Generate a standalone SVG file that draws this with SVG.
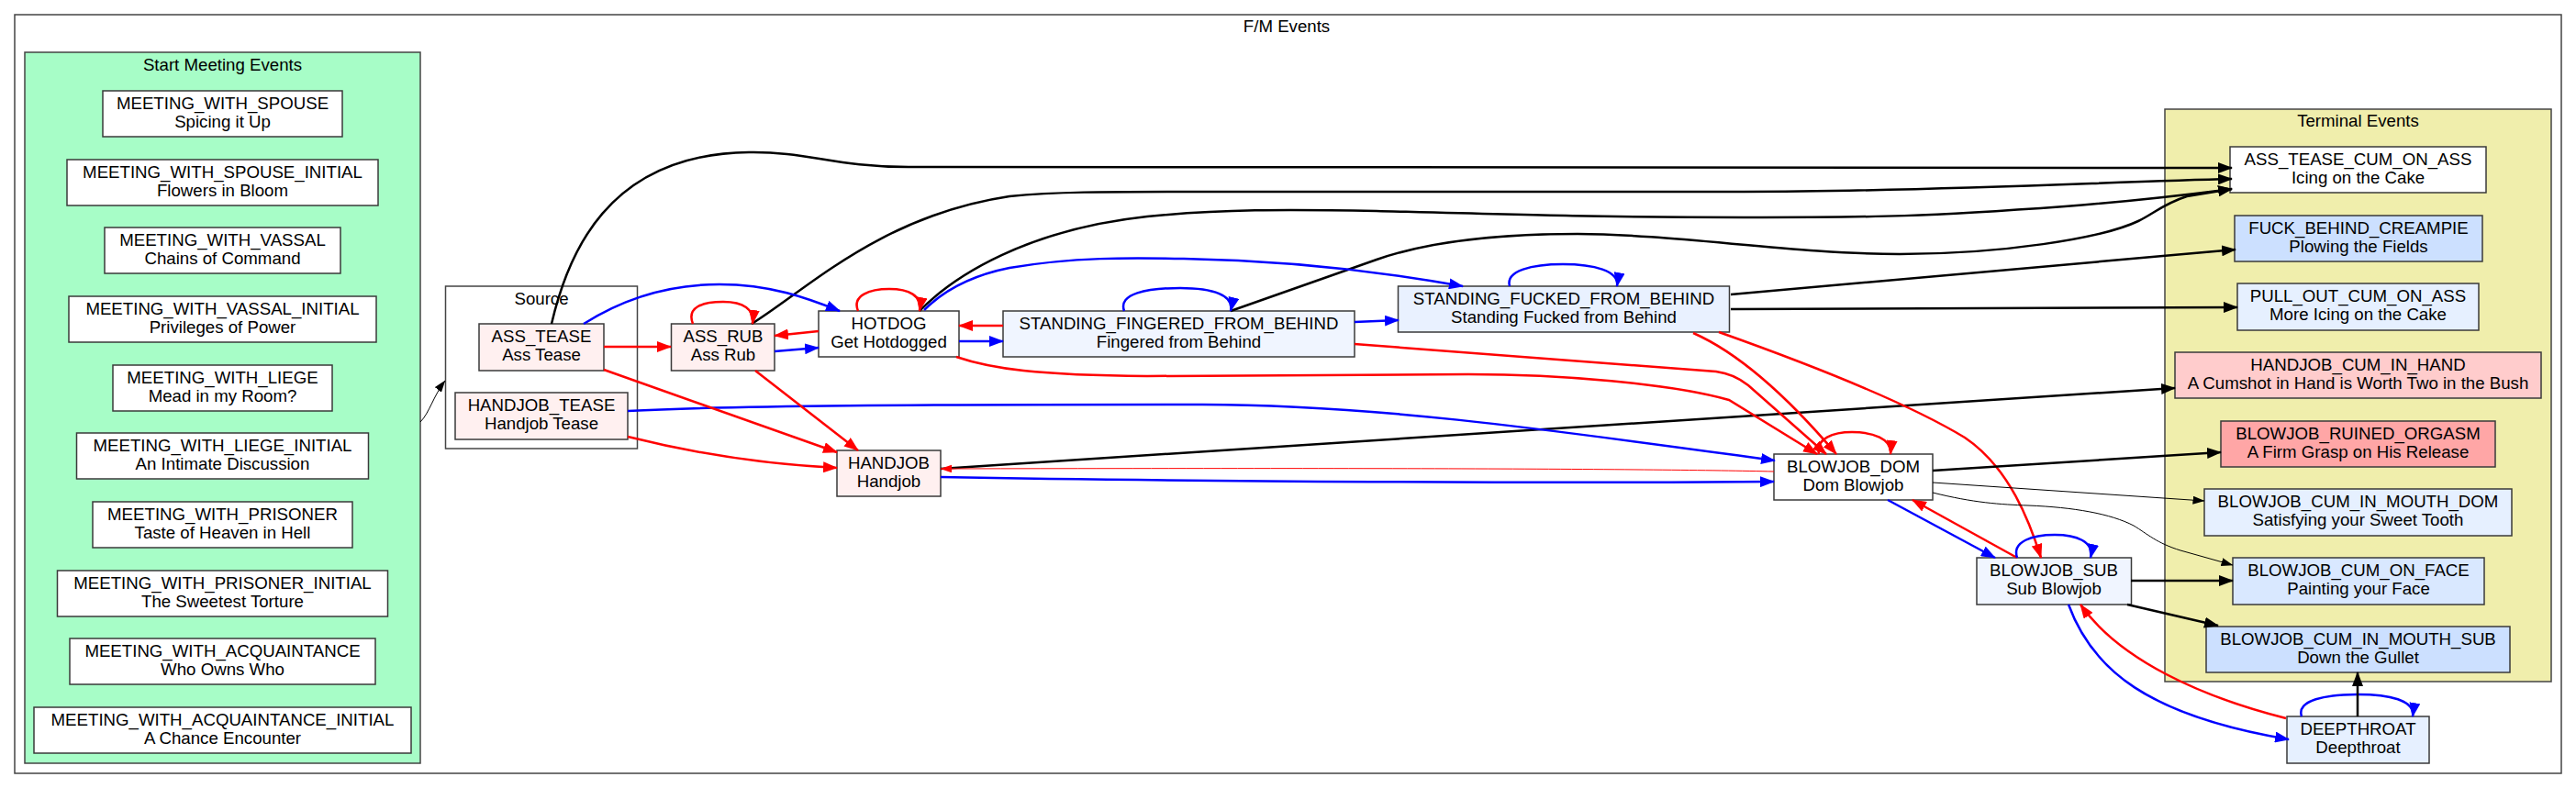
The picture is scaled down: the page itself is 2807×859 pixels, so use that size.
<svg xmlns="http://www.w3.org/2000/svg" width="2807" height="859" viewBox="0 0 2807 859">
<style>
text{font-family:"Liberation Sans",Arial,sans-serif;font-size:18.67px;fill:#000;text-anchor:middle}
.cl{stroke:#444;stroke-width:1.5}
.nd{stroke:#3a3a3a;stroke-width:1.5}
.e{fill:none;stroke-width:2.5}
.r{stroke:#ff0000}
.b{stroke:#0000ff}
.k{stroke:#000}
.t{stroke-width:1}
</style>
<defs>
<marker id="mr" viewBox="0 0 16 12" refX="15" refY="6" markerWidth="16" markerHeight="12" markerUnits="userSpaceOnUse" orient="auto"><path d="M0,0 L16,6 L0,12 z" fill="#ff0000"/></marker>
<marker id="mb" viewBox="0 0 16 12" refX="15" refY="6" markerWidth="16" markerHeight="12" markerUnits="userSpaceOnUse" orient="auto"><path d="M0,0 L16,6 L0,12 z" fill="#0000ff"/></marker>
<marker id="mk" viewBox="0 0 16 12" refX="15" refY="6" markerWidth="16" markerHeight="12" markerUnits="userSpaceOnUse" orient="auto"><path d="M0,0 L16,6 L0,12 z" fill="#000"/></marker>
<marker id="mkt" viewBox="0 0 13 9" refX="12.5" refY="4.5" markerWidth="13" markerHeight="9" markerUnits="userSpaceOnUse" orient="auto"><path d="M0,0 L13,4.5 L0,9 z" fill="#000"/></marker>
<marker id="mrt" viewBox="0 0 13 9" refX="12.5" refY="4.5" markerWidth="13" markerHeight="9" markerUnits="userSpaceOnUse" orient="auto"><path d="M0,0 L13,4.5 L0,9 z" fill="#ff0000"/></marker>
</defs>
<rect width="2807" height="859" fill="#fff"/>
<g id="cluster_outer">
<rect class="cl" x="16" y="16" width="2775" height="827" fill="#fff"/>
<text x="1402" y="35">F/M Events</text>
</g>
<g id="cluster_start">
<rect class="cl" x="27" y="57" width="431" height="775" fill="#a7fdc7"/>
<text x="242.5" y="77">Start Meeting Events</text>
</g>
<g id="cluster_source">
<rect class="cl" x="485.5" y="312" width="209" height="177" fill="#fff"/>
<text x="590" y="332">Source</text>
</g>
<g id="cluster_terminal">
<rect class="cl" x="2359" y="119" width="421" height="624" fill="#f0eeac"/>
<text x="2569.5" y="138">Terminal Events</text>
</g>
<g id="MEETING_WITH_SPOUSE"><rect class="nd" x="112" y="99" width="261" height="50" fill="#fff"/><text x="242.5" y="119">MEETING_WITH_SPOUSE</text><text x="242.5" y="138.5">Spicing it Up</text></g>
<g id="MEETING_WITH_SPOUSE_INITIAL"><rect class="nd" x="73" y="174" width="339" height="50" fill="#fff"/><text x="242.5" y="194">MEETING_WITH_SPOUSE_INITIAL</text><text x="242.5" y="213.5">Flowers in Bloom</text></g>
<g id="MEETING_WITH_VASSAL"><rect class="nd" x="114" y="248" width="257" height="50" fill="#fff"/><text x="242.5" y="268">MEETING_WITH_VASSAL</text><text x="242.5" y="287.5">Chains of Command</text></g>
<g id="MEETING_WITH_VASSAL_INITIAL"><rect class="nd" x="75" y="323" width="335" height="50" fill="#fff"/><text x="242.5" y="343">MEETING_WITH_VASSAL_INITIAL</text><text x="242.5" y="362.5">Privileges of Power</text></g>
<g id="MEETING_WITH_LIEGE"><rect class="nd" x="123" y="398" width="239" height="50" fill="#fff"/><text x="242.5" y="418">MEETING_WITH_LIEGE</text><text x="242.5" y="437.5">Mead in my Room?</text></g>
<g id="MEETING_WITH_LIEGE_INITIAL"><rect class="nd" x="83.5" y="472" width="318" height="50" fill="#fff"/><text x="242.5" y="492">MEETING_WITH_LIEGE_INITIAL</text><text x="242.5" y="511.5">An Intimate Discussion</text></g>
<g id="MEETING_WITH_PRISONER"><rect class="nd" x="101" y="547" width="283" height="50" fill="#fff"/><text x="242.5" y="567">MEETING_WITH_PRISONER</text><text x="242.5" y="586.5">Taste of Heaven in Hell</text></g>
<g id="MEETING_WITH_PRISONER_INITIAL"><rect class="nd" x="62.5" y="622" width="360" height="50" fill="#fff"/><text x="242.5" y="642">MEETING_WITH_PRISONER_INITIAL</text><text x="242.5" y="661.5">The Sweetest Torture</text></g>
<g id="MEETING_WITH_ACQUAINTANCE"><rect class="nd" x="76" y="696" width="333" height="50" fill="#fff"/><text x="242.5" y="716">MEETING_WITH_ACQUAINTANCE</text><text x="242.5" y="735.5">Who Owns Who</text></g>
<g id="MEETING_WITH_ACQUAINTANCE_INITIAL"><rect class="nd" x="37" y="771" width="411" height="50" fill="#fff"/><text x="242.5" y="791">MEETING_WITH_ACQUAINTANCE_INITIAL</text><text x="242.5" y="810.5">A Chance Encounter</text></g>
<g id="ASS_TEASE"><rect class="nd" x="522" y="353" width="136" height="51" fill="#fff0f0"/><text x="590" y="373">ASS_TEASE</text><text x="590" y="392.5">Ass Tease</text></g>
<g id="HANDJOB_TEASE"><rect class="nd" x="496" y="428" width="188" height="51" fill="#fff0f0"/><text x="590" y="448">HANDJOB_TEASE</text><text x="590" y="467.5">Handjob Tease</text></g>
<g id="ASS_RUB"><rect class="nd" x="731.5" y="353" width="112.5" height="51" fill="#fff0f0"/><text x="788" y="373">ASS_RUB</text><text x="788" y="392.5">Ass Rub</text></g>
<g id="HOTDOG"><rect class="nd" x="892" y="339" width="153" height="50" fill="#fff"/><text x="968.5" y="359">HOTDOG</text><text x="968.5" y="378.5">Get Hotdogged</text></g>
<g id="HANDJOB"><rect class="nd" x="912" y="491" width="113" height="50" fill="#fff0f0"/><text x="968.5" y="511">HANDJOB</text><text x="968.5" y="530.5">Handjob</text></g>
<g id="STANDING_FINGERED_FROM_BEHIND"><rect class="nd" x="1093" y="339" width="383" height="50" fill="#f0f5ff"/><text x="1284.5" y="359">STANDING_FINGERED_FROM_BEHIND</text><text x="1284.5" y="378.5">Fingered from Behind</text></g>
<g id="STANDING_FUCKED_FROM_BEHIND"><rect class="nd" x="1523.5" y="312" width="361" height="50" fill="#e9f1ff"/><text x="1704" y="332">STANDING_FUCKED_FROM_BEHIND</text><text x="1704" y="351.5">Standing Fucked from Behind</text></g>
<g id="BLOWJOB_DOM"><rect class="nd" x="1933" y="495" width="173" height="50" fill="#fff"/><text x="2019.5" y="515">BLOWJOB_DOM</text><text x="2019.5" y="534.5">Dom Blowjob</text></g>
<g id="BLOWJOB_SUB"><rect class="nd" x="2154" y="608" width="168.5" height="51" fill="#f0f5ff"/><text x="2238" y="628">BLOWJOB_SUB</text><text x="2238" y="647.5">Sub Blowjob</text></g>
<g id="DEEPTHROAT"><rect class="nd" x="2492" y="781" width="155" height="51" fill="#e6f0ff"/><text x="2569.5" y="801">DEEPTHROAT</text><text x="2569.5" y="820.5">Deepthroat</text></g>
<g id="ASS_TEASE_CUM_ON_ASS"><rect class="nd" x="2430" y="160" width="279" height="50" fill="#fff"/><text x="2569.5" y="180">ASS_TEASE_CUM_ON_ASS</text><text x="2569.5" y="199.5">Icing on the Cake</text></g>
<g id="FUCK_BEHIND_CREAMPIE"><rect class="nd" x="2435" y="235" width="270" height="50" fill="#cce0ff"/><text x="2570" y="255">FUCK_BEHIND_CREAMPIE</text><text x="2570" y="274.5">Plowing the Fields</text></g>
<g id="PULL_OUT_CUM_ON_ASS"><rect class="nd" x="2438" y="309" width="263" height="51" fill="#e6f0ff"/><text x="2569.5" y="329">PULL_OUT_CUM_ON_ASS</text><text x="2569.5" y="348.5">More Icing on the Cake</text></g>
<g id="HANDJOB_CUM_IN_HAND"><rect class="nd" x="2370" y="384" width="399" height="50" fill="#ffcccc"/><text x="2569.5" y="404">HANDJOB_CUM_IN_HAND</text><text x="2569.5" y="423.5">A Cumshot in Hand is Worth Two in the Bush</text></g>
<g id="BLOWJOB_RUINED_ORGASM"><rect class="nd" x="2420" y="459" width="299" height="50" fill="#ffa6a6"/><text x="2569.5" y="479">BLOWJOB_RUINED_ORGASM</text><text x="2569.5" y="498.5">A Firm Grasp on His Release</text></g>
<g id="BLOWJOB_CUM_IN_MOUTH_DOM"><rect class="nd" x="2402" y="533" width="335" height="51" fill="#e6f0ff"/><text x="2569.5" y="553">BLOWJOB_CUM_IN_MOUTH_DOM</text><text x="2569.5" y="572.5">Satisfying your Sweet Tooth</text></g>
<g id="BLOWJOB_CUM_ON_FACE"><rect class="nd" x="2433" y="608" width="274" height="51" fill="#d9e8ff"/><text x="2570" y="628">BLOWJOB_CUM_ON_FACE</text><text x="2570" y="647.5">Painting your Face</text></g>
<g id="BLOWJOB_CUM_IN_MOUTH_SUB"><rect class="nd" x="2404" y="683" width="331" height="50" fill="#cce0ff"/><text x="2569.5" y="703">BLOWJOB_CUM_IN_MOUTH_SUB</text><text x="2569.5" y="722.5">Down the Gullet</text></g>
<g id="edges">
<path class="e k t" marker-end="url(#mkt)" d="M458,460 C468,450 472,432 485,415"/>
<path class="e k" marker-end="url(#mk)" d="M601,353 C618,280 660,168 816,166 C880,165 910,182 990,182 L2432,183"/>
<path class="e k" marker-end="url(#mk)" d="M819,353 C880,315 960,235 1100,214 C1150,209 1200,209 1300,209 L1900,209 C2100,209 2300,198 2432,195"/>
<path class="e k" marker-end="url(#mk)" d="M1002,339 C1040,300 1120,250 1250,236 C1330,228 1400,228 1500,230 C1650,234 1750,237 1900,237 C2050,237 2100,236 2250,225 C2340,218 2400,210 2432,206"/>
<path class="e k" marker-end="url(#mk)" d="M1341,339 L1500,283 C1560,262 1640,255 1719,255 C1820,255 1960,277 2070,277 C2180,277 2290,260 2330,241 C2348,232 2358,222 2383,214 L2432,206"/>
<path class="e k" marker-end="url(#mk)" d="M1886,321 L2436,272"/>
<path class="e k" marker-end="url(#mk)" d="M1886,337 L2438,335"/>
<path class="e k" marker-end="url(#mk)" d="M1025,511 L2370,423"/>
<path class="e r t" marker-end="url(#mrt)" d="M1933,514 C1800,511 1500,510 1025,511"/>
<path class="e b" marker-end="url(#mb)" d="M1025,520 C1300,525 1700,527 1933,525"/>
<path class="e b" marker-end="url(#mb)" d="M684,448 C800,442 1000,441 1310,441 C1500,441 1700,470 1934,502"/>
<path class="e r" marker-end="url(#mr)" d="M684,476 C760,495 830,506 912,510"/>
<path class="e r" marker-end="url(#mr)" d="M658,378 L731,378"/>
<path class="e r" marker-end="url(#mr)" d="M658,403 L912,493"/>
<path class="e b" marker-end="url(#mb)" d="M636,353 C680,325 730,310 784,310 C840,310 880,325 915,339"/>
<path class="e r" marker-end="url(#mr)" d="M755,353 C748,335 765,329 788,329 C810,329 822,337 820,353"/>
<path class="e r" marker-end="url(#mr)" d="M823,404 L935,491"/>
<path class="e b" marker-end="url(#mb)" d="M844,383 L892,379"/>
<path class="e r" marker-end="url(#mr)" d="M892,361 L844,366"/>
<path class="e r" marker-end="url(#mr)" d="M935,339 C928,322 948,315 969,315 C990,315 1005,322 1002,339"/>
<path class="e b" marker-end="url(#mb)" d="M1045,372 L1093,372"/>
<path class="e r" marker-end="url(#mr)" d="M1093,355 L1045,355"/>
<path class="e b" marker-end="url(#mb)" d="M1007,338 C1030,315 1060,300 1100,292 C1170,280 1230,281 1290,282 C1400,284 1500,295 1594,312"/>
<path class="e r" marker-end="url(#mr)" d="M1042,389 C1080,402 1130,409 1250,410 L1600,408 C1700,408 1820,418 1884,436 L1980,495"/>
<path class="e r" marker-end="url(#mr)" d="M1476,375 L1870,405 C1885,407 1895,412 1905,420 L1990,495"/>
<path class="e r" marker-end="url(#mr)" d="M1845,363 C1895,385 1950,435 2001,495"/>
<path class="e r" marker-end="url(#mr)" d="M1873,362 C1980,400 2080,440 2141,477 C2190,510 2212,570 2224,608"/>
<path class="e b" marker-end="url(#mb)" d="M1225,339 C1218,320 1250,314 1286,314 C1322,314 1345,322 1341,339"/>
<path class="e b" marker-end="url(#mb)" d="M1476,351 L1524,349"/>
<path class="e b" marker-end="url(#mb)" d="M1645,312 C1640,295 1670,288 1703,288 C1736,288 1765,295 1762,312"/>
<path class="e r" marker-end="url(#mr)" d="M1982,495 C1978,478 1998,471 2018,471 C2040,471 2062,478 2060,495"/>
<path class="e k" marker-end="url(#mk)" d="M2106,513 L2420,493"/>
<path class="e k t" marker-end="url(#mkt)" d="M2106,526 L2402,546"/>
<path class="e k t" marker-end="url(#mkt)" d="M2106,537 C2150,548 2180,550 2210,551 C2260,553 2300,560 2325,573 C2340,582 2350,592 2376,600 L2433,616"/>
<path class="e b" marker-end="url(#mb)" d="M2057,545 L2174,608"/>
<path class="e r" marker-end="url(#mr)" d="M2198,608 L2084,545"/>
<path class="e b" marker-end="url(#mb)" d="M2198,608 C2192,590 2215,583 2239,583 C2262,583 2282,590 2278,608"/>
<path class="e k" marker-end="url(#mk)" d="M2322,633 L2433,633"/>
<path class="e k" marker-end="url(#mk)" d="M2318,659 L2417,682"/>
<path class="e b" marker-end="url(#mb)" d="M2254,659 C2280,730 2340,780 2494,806"/>
<path class="e r" marker-end="url(#mr)" d="M2491,783 C2400,760 2310,720 2267,659"/>
<path class="e b" marker-end="url(#mb)" d="M2508,781 C2502,763 2535,757 2569,757 C2603,757 2632,763 2629,781"/>
<path class="e k" marker-end="url(#mk)" d="M2569,781 L2569,733"/>
</g>
</svg>
